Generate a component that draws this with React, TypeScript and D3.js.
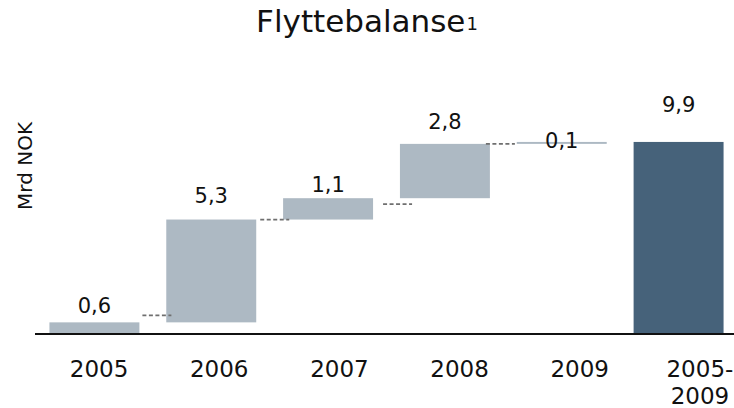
import React from "react";
import { scaleBand, scaleLinear } from "d3";

const categories = ["2005", "2006", "2007", "2008", "2009", "2005-2009"];
const changes = [0.6, 5.3, 1.1, 2.8, 0.1];
const total = 9.9;
const valueLabels = ["0,6", "5,3", "1,1", "2,8", "0,1", "9,9"];
const tickLines = [["2005"], ["2006"], ["2007"], ["2008"], ["2009"], ["2005-", "2009"]];

const W = 734;
const H = 408;
const FONT = "'DejaVu Sans', Verdana, sans-serif";
const LIGHT = "#adb9c3";
const DARK = "#46627a";

// hand nudges for labels / connectors, as placed in the original slide
const labelDy = [-9, -17, -6, -15, 6, -30];
const connDy = [-7, 0, 6, 0];
const connDx = [0, 1, 7, -7];

export default function App() {
  const x = scaleBand<string>()
    .domain(categories)
    .range([36, 737])
    .paddingInner(0.23)
    .paddingOuter(0.115);
  const xt = scaleBand<string>().domain(categories).range([39, 760]);
  const y = scaleLinear().domain([0, 10]).range([334, 140]);

  // waterfall steps
  let run = 0;
  const bars = changes.map((v, i) => {
    const start = run;
    run += v;
    return { cat: categories[i], start, end: run, label: valueLabels[i], total: false };
  });
  bars.push({ cat: categories[5], start: 0, end: total, label: valueLabels[5], total: true });

  const bw = x.bandwidth();

  return (
    <svg width={W} height={H} style={{ position: "absolute", left: 0, top: 0 }} fontFamily={FONT}>
      <text x={367} y={32} textAnchor="middle" fontSize={31} fill="#111">
        Flyttebalanse
        <tspan fontSize={18} dx={1} dy={-2}>1</tspan>
      </text>

      <text
        transform={`translate(32,166) rotate(-90)`}
        textAnchor="middle"
        fontSize={20}
        fill="#111"
      >
        Mrd NOK
      </text>

      {bars.map((b) => (
        <rect
          key={b.cat}
          x={x(b.cat)}
          y={y(b.end)}
          width={bw}
          height={Math.max(1.5, y(b.start) - y(b.end))}
          fill={b.total ? DARK : LIGHT}
        />
      ))}

      {bars.slice(0, 4).map((b, i) => {
        const x0 = (x(b.cat) as number) + bw + 3 + connDx[i];
        const x1 = x0 + 29;
        const yy = y(b.end) + connDy[i];
        return (
          <line
            key={"c" + i}
            x1={x0}
            x2={x1}
            y1={yy}
            y2={yy}
            stroke="#6f6f6f"
            strokeWidth={1.8}
            strokeDasharray="4,2.5"
          />
        );
      })}

      {bars.map((b, i) => (
        <text
          key={"l" + i}
          x={(x(b.cat) as number) + bw / 2}
          y={y(b.end) + labelDy[i]}
          textAnchor="middle"
          fontSize={21}
          fill="#111"
        >
          {b.label}
        </text>
      ))}

      <line x1={35} x2={W} y1={334} y2={334} stroke="#111" strokeWidth={2} />

      {categories.map((c, i) => {
        const cx = (xt(c) as number) + xt.bandwidth() / 2;
        return (
          <text key={"t" + c} x={cx} y={377} textAnchor="middle" fontSize={23} fill="#111">
            {tickLines[i].map((t, j) => (
              <tspan key={j} x={cx} dy={j === 0 ? 0 : 27}>
                {t}
              </tspan>
            ))}
          </text>
        );
      })}
    </svg>
  );
}
